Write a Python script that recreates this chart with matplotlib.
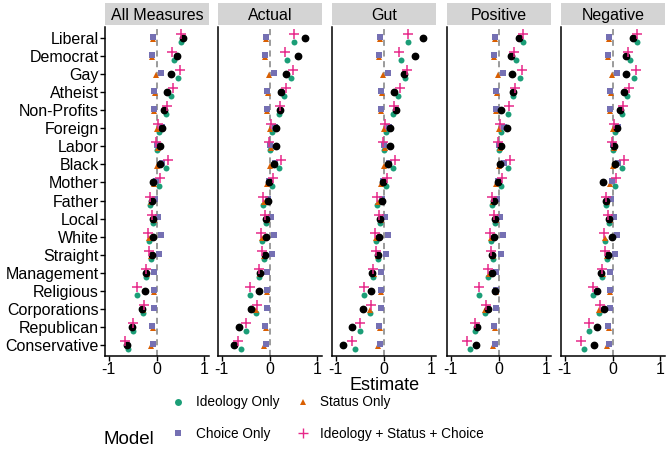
import numpy as np
import matplotlib.pyplot as plt

plt.rcParams['font.family'] = ['Liberation Sans', 'DejaVu Sans']

groups = ["Liberal", "Democrat", "Gay", "Atheist", "Non-Profits", "Foreign", "Labor",
          "Black", "Mother", "Father", "Local", "White", "Straight", "Management",
          "Religious", "Corporations", "Republican", "Conservative"]
panels = ["All Measures", "Actual", "Gut", "Positive", "Negative"]

# model predictions (same in every panel)
ideology_only = [0.52, 0.37, 0.46, 0.31, 0.19, 0.06, 0.01, 0.20, 0.05, -0.13, -0.08, -0.15,
                 -0.11, -0.23, -0.40, -0.29, -0.50, -0.59]
status_only = [-0.07, -0.09, -0.02, -0.03, -0.05, 0.01, 0.04, 0.01, -0.06, -0.12, -0.05, -0.16,
               -0.12, -0.21, -0.06, -0.29, -0.08, -0.12]
choice_only = [-0.08, -0.10, 0.09, -0.06, -0.06, 0.11, 0.00, 0.11, -0.02, -0.03, 0.03, 0.10,
               0.06, -0.06, -0.06, -0.06, -0.09, -0.07]
full_model = [0.51, 0.33, 0.50, 0.34, 0.22, 0.04, -0.01, 0.25, 0.07, -0.13, -0.10, -0.18,
              -0.15, -0.22, -0.41, -0.26, -0.50, -0.67]

# observed estimates per panel
observed = {
    "All Measures": [0.56, 0.43, 0.31, 0.23, 0.16, 0.12, 0.08, 0.08, -0.08, -0.10, -0.07, -0.07,
                     -0.10, -0.22, -0.24, -0.31, -0.51, -0.61],
    "Actual": [0.74, 0.59, 0.35, 0.25, 0.23, 0.13, 0.13, 0.09, -0.02, -0.03, -0.08, -0.08,
               -0.10, -0.20, -0.23, -0.39, -0.63, -0.75],
    "Gut": [0.83, 0.65, 0.43, 0.21, 0.26, 0.13, 0.13, 0.10, -0.01, -0.04, -0.08, -0.09,
            -0.12, -0.25, -0.27, -0.42, -0.67, -0.84],
    "Positive": [0.42, 0.26, 0.28, 0.31, 0.05, 0.17, 0.06, 0.03, -0.02, -0.10, -0.08, -0.09,
                 -0.13, -0.13, -0.07, -0.23, -0.45, -0.47],
    "Negative": [0.42, 0.28, 0.28, 0.24, 0.15, 0.09, 0.03, 0.05, -0.21, -0.13, -0.07, -0.01,
                 -0.10, -0.24, -0.33, -0.18, -0.33, -0.38],
}
observed_se = 0.04

models = [
    ("Ideology Only", ideology_only, "#1B9E77", "o", 4.3, 0.22),
    ("Status Only", status_only, "#D95F02", "^", 4.5, 0.07),
    ("Choice Only", choice_only, "#7570B3", "s", 4.5, -0.07),
    ("Ideology + Status + Choice", full_model, "#E7298A", "+", 7.0, -0.22),
]

W, H = 669, 470
fig = plt.figure(figsize=(W / 100, H / 100), dpi=100)

ypos = np.arange(len(groups))
lefts = [105, 218, 332, 447, 561]
pw = 104
top, bottom = 27, 356
handles = {}

for i, name in enumerate(panels):
    ax = fig.add_axes([lefts[i] / W, 1 - bottom / H, pw / W, (bottom - top) / H])
    ax.axvline(0, color="#808080", linestyle=(0, (4, 3)), linewidth=1.1, zorder=1)

    obs = observed[name]
    ax.errorbar(obs, ypos, xerr=observed_se, fmt="o", color="black", markersize=4.6,
                elinewidth=1.3, capsize=0, zorder=3)
    for label, vals, col, mk, ms, off in models:
        h, = ax.plot(vals, ypos + off, linestyle="none", marker=mk, color=col,
                     markersize=ms, markeredgewidth=1.1 if mk == "+" else 0,
                     zorder=4 if mk == "+" else 2)
        handles[label] = h

    ax.set_xlim(-1.08, 1.1)
    ax.set_ylim(len(groups) - 0.4, -0.6)
    ax.set_xticks([-1, 0, 1])
    ax.set_xticklabels(["-1", "0", "1"], fontsize=11.5)
    for s in ["top", "right"]:
        ax.spines[s].set_visible(False)
    ax.spines["left"].set_linewidth(1.1)
    ax.spines["bottom"].set_linewidth(1.1)
    ax.tick_params(length=3.5, width=1.0, pad=1)
    if i == 0:
        ax.set_yticks(ypos)
        ax.set_yticklabels(groups, fontsize=11.5)
    else:
        ax.set_yticks([])

    strip = fig.add_axes([lefts[i] / W, 1 - 25 / H, pw / W, 22 / H])
    strip.set_facecolor("#D4D4D4")
    strip.set_xticks([])
    strip.set_yticks([])
    for s in strip.spines.values():
        s.set_visible(False)
    strip.text(0.5, 0.45, name, ha="center", va="center", fontsize=11.5,
               transform=strip.transAxes)

fig.text(385 / W, 1 - 386 / H, "Estimate", ha="center", va="center", fontsize=13)

fig.text(104 / W, 1 - 439 / H, "Model", ha="left", va="center", fontsize=13.5)
order = ["Ideology Only", "Choice Only", "Status Only", "Ideology + Status + Choice"]
leg_handles = []
for lab in order:
    h = handles[lab]
    leg_handles.append(plt.Line2D([], [], linestyle="none", marker=h.get_marker(),
                                  color=h.get_color(), markersize=5 if lab != order[3] else 6.5,
                                  markeredgewidth=1.0 if lab == order[3] else 0))
fig.legend(leg_handles, order, ncol=2, loc="center left",
           bbox_to_anchor=(158 / W, 1 - 418 / H), frameon=False, fontsize=9.8,
           labelspacing=1.25, handletextpad=0.7, columnspacing=1.1, handlelength=1.2)

fig.savefig("out.png", dpi=100)
